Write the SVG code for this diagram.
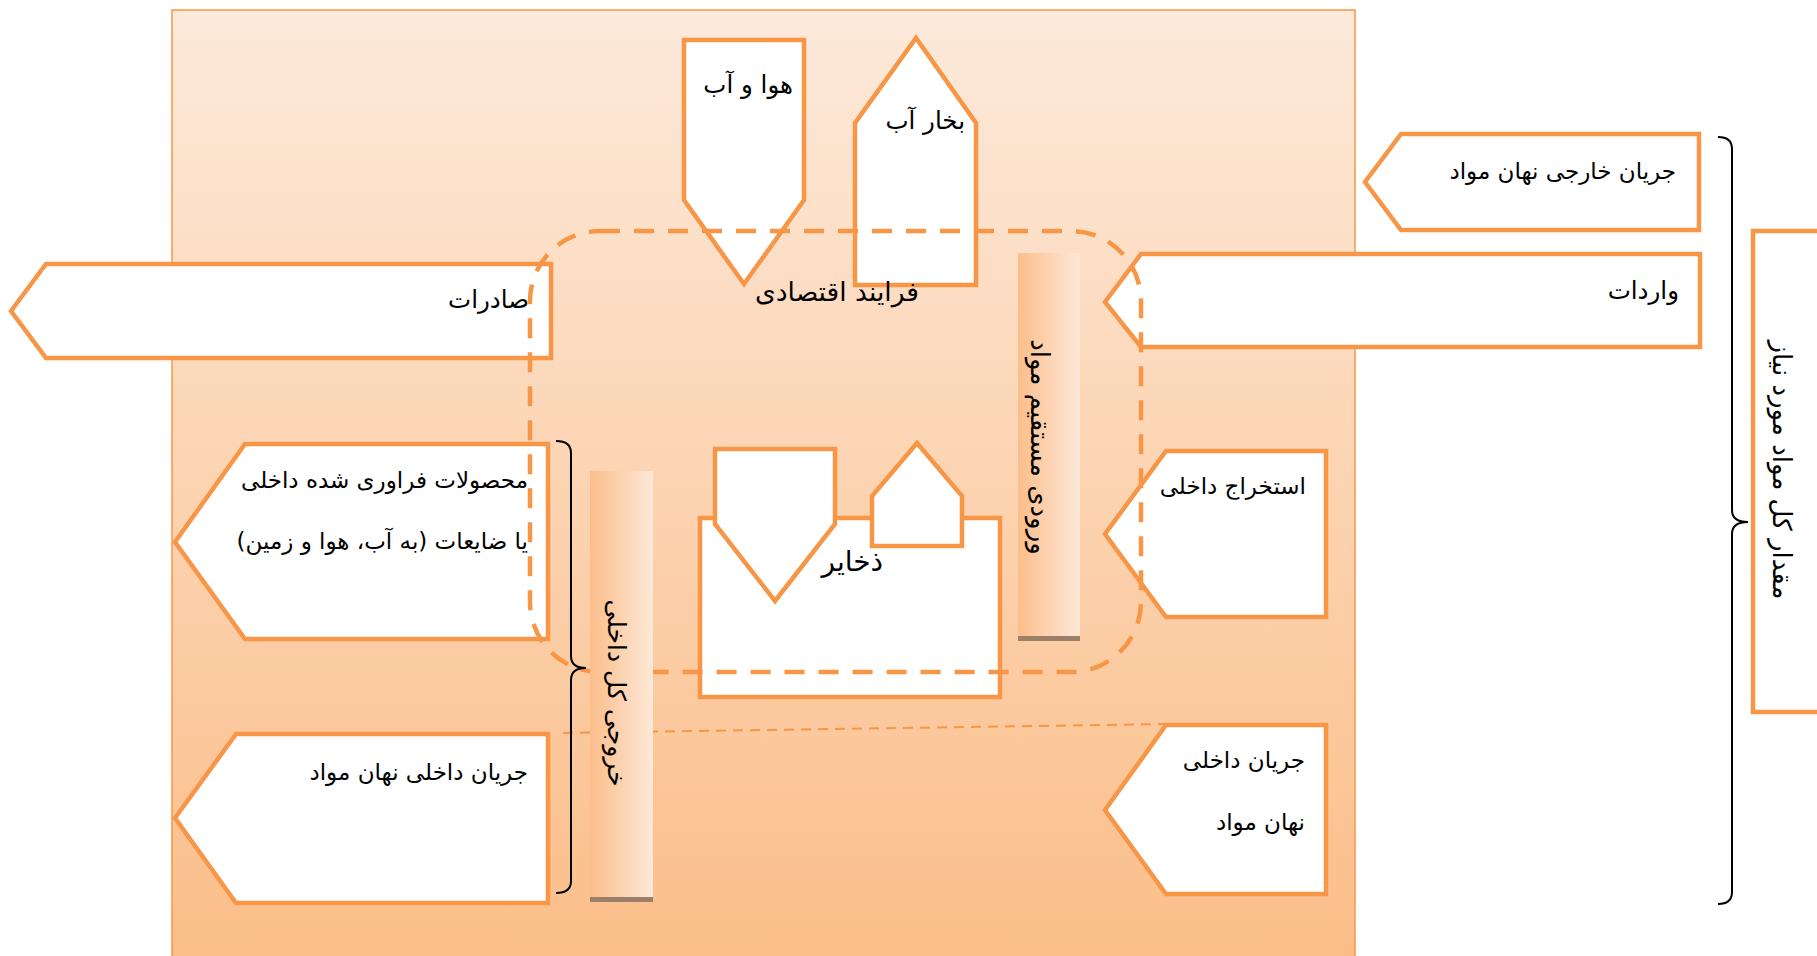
<svg xmlns="http://www.w3.org/2000/svg" width="1817" height="956" viewBox="0 0 1817 956">
  <defs>
    <linearGradient id="bgGrad" x1="0" y1="0" x2="0" y2="1">
      <stop offset="0" stop-color="#FDEADB"/>
      <stop offset="1" stop-color="#FBBD88"/>
    </linearGradient>
    <linearGradient id="barGrad" x1="0" y1="0" x2="1" y2="0">
      <stop offset="0" stop-color="#FBBE8B"/>
      <stop offset="1" stop-color="#FDE8D8"/>
    </linearGradient>
    <style>
      .box { fill: #FFFFFF; stroke: #F79646; stroke-width: 4.5; stroke-linejoin: miter; }
      .lbl { font-family: "DejaVu Sans", "Noto Sans", sans-serif; font-size: 23px; fill: #000000; direction: rtl; text-anchor: start; }
      .big { font-size: 24.5px; }
      .vlbl { font-family: "DejaVu Sans", "Noto Sans", sans-serif; font-size: 26px; fill: #000000; text-anchor: middle; dominant-baseline: central; }
      .bar { fill: url(#barGrad); }
      .barfoot { fill: #9C7F68; }
      .brace { fill: none; stroke: #000000; stroke-width: 2; }
      .dashrect { fill: none; stroke: #F79646; stroke-width: 4.5; stroke-dasharray: 20 14; }
      .thindash { fill: none; stroke: #F79646; stroke-width: 2; stroke-dasharray: 10 7; }
    </style>
  </defs>

  <g id="background">
    <rect x="172" y="10" width="1183" height="960" fill="url(#bgGrad)" stroke="#F79646" stroke-width="1.5"/>
  </g>

  <g id="node-exports">
    <polygon class="box" points="11,311 46,264 551,264 551,358 46,358"/>
    <text class="lbl big" x="529" y="308">صادرات</text>
  </g>

  <g id="node-air-water">
    <polygon class="box" points="684,40 804,40 804,200 744,284 684,200"/>
    <text class="lbl big" x="793" y="93">هوا و آب</text>
  </g>

  <g id="node-vapour">
    <polygon class="box" points="916,38 976,123 976,285 855,285 855,123"/>
    <text class="lbl big" x="965" y="129">بخار آب</text>
  </g>

  <g id="node-imports">
    <polygon class="box" points="1105,302 1141,254 1700,254 1700,347 1141,347"/>
    <text class="lbl big" x="1679" y="299">واردات</text>
  </g>

  <g id="node-foreign-hidden">
    <polygon class="box" points="1365,182 1401,134 1699,134 1699,230 1401,230"/>
    <text class="lbl" x="1676" y="179">جریان خارجی نهان مواد</text>
  </g>

  <g id="node-total-required">
    <rect class="box" x="1753" y="231" width="90" height="481"/>
    <text class="vlbl" x="1782" y="470" transform="rotate(90 1782 470)">مقدار کل مواد مورد نیاز</text>
  </g>

  <g id="node-products-waste">
    <polygon class="box" points="175,542 245,444 548,444 548,639 245,639"/>
    <text class="lbl" x="528" y="488">محصولات فراوری شده داخلی</text>
    <text class="lbl" x="528" y="549">یا ضایعات (به آب، هوا و زمین)</text>
  </g>

  <g id="node-domestic-hidden-out">
    <polygon class="box" points="175,818 236,734 548,734 548,903 236,903"/>
    <text class="lbl" x="528" y="780">جریان داخلی نهان مواد</text>
  </g>

  <g id="node-stocks">
    <rect class="box" x="700" y="518" width="300" height="179"/>
    <polygon class="box" points="715,449 835,449 835,524 775,601 715,524"/>
    <polygon class="box" points="917,443 962,496 962,546 872,546 872,496"/>
    <text class="lbl" x="883" y="571" style="font-size:28px">ذخایر</text>
  </g>

  <g id="node-extraction">
    <polygon class="box" points="1105,534 1166,451 1326,451 1326,617 1166,617"/>
    <text class="lbl" x="1306" y="494">استخراج داخلی</text>
  </g>

  <g id="node-domestic-hidden-in">
    <polygon class="box" points="1105,810 1166,725 1326,725 1326,894 1166,894"/>
    <text class="lbl" x="1305" y="768">جریان داخلی</text>
    <text class="lbl" x="1305" y="830">نهان مواد</text>
  </g>

  <g id="connectors">
    <rect class="dashrect" x="530" y="231" width="611" height="441" rx="70" ry="70"/>
    <line class="thindash" x1="563" y1="733" x2="1166" y2="724"/>
    <path class="brace" d="M556,441 Q571,441 571,453 L571,656 Q571,668 586,668 Q571,668 571,680 L571,881 Q571,893 556,893"/>
    <path class="brace" d="M1718,137 Q1732,137 1732,149 L1732,510 Q1732,522 1748,522 Q1732,522 1732,534 L1732,892 Q1732,904 1718,904"/>
  </g>

  <g id="node-economic-process">
    <text class="lbl" x="919" y="301" style="font-size:26.5px">فرایند اقتصادی</text>
  </g>

  <g id="node-direct-input">
    <rect class="bar" x="1018" y="253" width="62" height="385"/>
    <rect class="barfoot" x="1018" y="636" width="62" height="5"/>
    <text class="vlbl" x="1040" y="447" transform="rotate(90 1040 447)">ورودی مستقیم مواد</text>
  </g>

  <g id="node-total-output">
    <rect class="bar" x="590" y="471" width="63" height="428"/>
    <rect class="barfoot" x="590" y="897" width="63" height="5"/>
    <text class="vlbl" x="616" y="693" style="font-size:25px" transform="rotate(90 616 693)">خروجی کل داخلی</text>
  </g>
</svg>
